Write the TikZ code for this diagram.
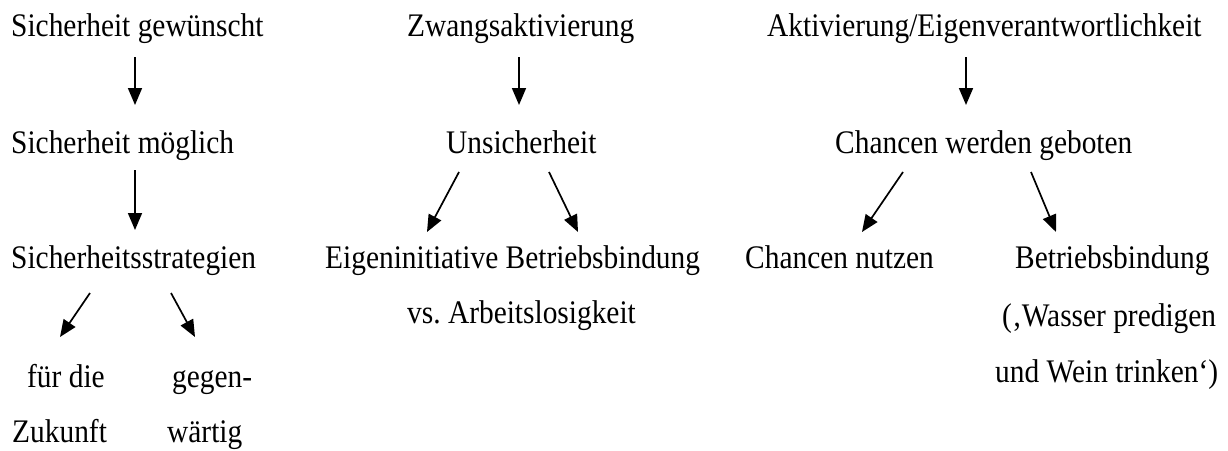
\documentclass[tikz,border=0pt]{standalone}
\usepackage{fontspec}
\setmainfont{Liberation Serif}
\usetikzlibrary{arrows.meta}
\newcommand{\tallt}[1]{\scalebox{1}[1.12]{#1}}
\begin{document}
\begin{tikzpicture}[x=1pt,y=-1pt,
  lbl/.style={inner sep=0pt, anchor=base west, font=\fontsize{29.4}{35}\selectfont},
  arr/.style={-{Triangle[length=17pt,width=14pt]}, line width=1.7pt}]
\useasboundingbox (0,0) rectangle (1228,450);
% left column
\node[lbl] (a1) at (11,36) {\tallt{Sicherheit gewünscht}};
\node[lbl] (a2) at (11,153) {\tallt{Sicherheit möglich}};
\node[lbl] (a3) at (11,268) {\tallt{Sicherheitsstrategien}};
\node[lbl] (a4) at (27,387) {\tallt{für die}};
\node[lbl] (a5) at (12,442) {\tallt{Zukunft}};
\node[lbl] (a6) at (172,387) {\tallt{gegen-}};
\node[lbl] (a7) at (167,442) {\tallt{wärtig}};
% middle column
\node[lbl] (b1) at (407,36) {\tallt{Zwangsaktivierung}};
\node[lbl] (b2) at (446,153) {\tallt{Unsicherheit}};
\node[lbl] (b3) at (325,268) {\tallt{Eigeninitiative Betriebsbindung}};
\node[lbl] (b4) at (407,323) {\tallt{vs.\ Arbeitslosigkeit}};
% right column
\node[lbl] (c1) at (767,36) {\tallt{Aktivierung/Eigenverantwortlichkeit}};
\node[lbl] (c2) at (835,153) {\tallt{Chancen werden geboten}};
\node[lbl] (c3) at (745,268) {\tallt{Chancen nutzen}};
\node[lbl] (c4) at (1015,268) {\tallt{Betriebsbindung}};
\node[lbl] (c5) at (1002,326) {\tallt{(‚Wasser predigen}};
\node[lbl] (c6) at (995,382) {\tallt{und Wein trinken‘)}};
% arrow end points
\coordinate (s1) at (135,57);  \coordinate (e1) at (135,105);
\coordinate (s2) at (135,170); \coordinate (e2) at (135,230);
\coordinate (s3) at (90,293);  \coordinate (e3) at (60,337);
\coordinate (s4) at (171,293); \coordinate (e4) at (195,337);
\coordinate (s5) at (519,57);  \coordinate (e5) at (519,105);
\coordinate (s6) at (459,172); \coordinate (e6) at (427,232);
\coordinate (s7) at (549,172); \coordinate (e7) at (578,232);
\coordinate (s8) at (966,57);  \coordinate (e8) at (966,105);
\coordinate (s9) at (903,172); \coordinate (e9) at (862,232);
\coordinate (s10) at (1031,172); \coordinate (e10) at (1056,232);
\foreach \i in {1,...,10} \draw[arr] (s\i) -- (e\i);
\end{tikzpicture}
\end{document}
